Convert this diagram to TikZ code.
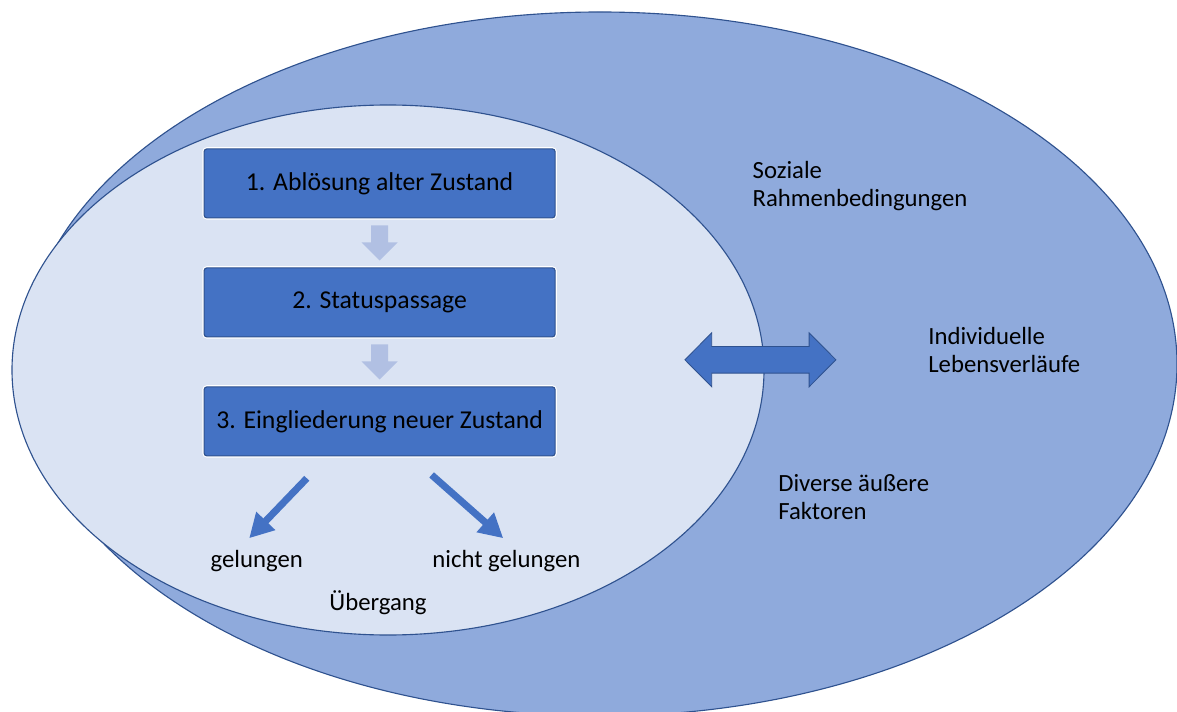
\documentclass[tikz,border=0pt]{standalone}
\usepackage{fontspec}
\setmainfont{Carlito}
\usetikzlibrary{positioning,calc,arrows.meta}

\definecolor{outerblue}{HTML}{8FAADC}
\definecolor{innerblue}{HTML}{DAE3F3}
\definecolor{edgeblue}{HTML}{2F528F}
\definecolor{stageblue}{HTML}{4472C4}
\definecolor{paleblue}{HTML}{B1C0E3}

\begin{document}
\begin{tikzpicture}[
	stage/.style={draw=edgeblue, line width=0.8pt, fill=stageblue, rounded corners=2pt,
		preaction={draw=white, line width=2.4pt},
		minimum width=8.775cm, minimum height=1.725cm, inner sep=0pt, outer sep=0pt,
		font=\fontsize{18.3}{20}\selectfont},
	lbl/.style={inner sep=0pt, font=\fontsize{17.6}{20}\selectfont},
	branch/.style={draw=stageblue, line width=5pt, -{Triangle[length=0.6cm,width=0.62cm]}},
]

\def\width{29.425}
\def\height{17.775}

\path [use as bounding box] (0,0) rectangle (\width,\height);

% ELLIPSES
\filldraw [draw=edgeblue, line width=0.8pt, fill=outerblue] (15.0,8.675) ellipse [x radius=14.425, y radius=8.8];
\filldraw [draw=edgeblue, line width=0.8pt, fill=innerblue] (9.7,8.525) ellipse [x radius=9.4, y radius=6.625];

% STAGES
\node [stage] (box1) at (9.49,13.19) {1. Ablösung alter Zustand};
\node [stage, below=1.25cm of box1] (box2) {2. Statuspassage};
\node [stage, below=1.25cm of box2] (box3) {3. Eingliederung neuer Zustand};

% STEP ARROWS
\fill [paleblue] ($(box1.south)!0.5!(box2.north)$)
	+(-0.215,0.4375) -- +(0.215,0.4375) -- +(0.215,0.0125) -- +(0.45,0.0125) --
	+(0,-0.4375) -- +(-0.45,0.0125) -- +(-0.215,0.0125) -- cycle;
\fill [paleblue] ($(box2.south)!0.5!(box3.north)$)
	+(-0.215,0.4375) -- +(0.215,0.4375) -- +(0.215,0.0125) -- +(0.45,0.0125) --
	+(0,-0.4375) -- +(-0.45,0.0125) -- +(-0.215,0.0125) -- cycle;

% LINK ARROW
\coordinate (link) at (19.01,8.78);
\filldraw [draw=edgeblue, line width=0.6pt, fill=stageblue] (link)
	+(-1.8875,0) -- +(-1.2175,0.675) -- +(-1.2175,0.334) -- +(1.2175,0.334) -- +(1.2175,0.675) --
	+(1.8875,0) -- +(1.2175,-0.675) -- +(1.2175,-0.334) -- +(-1.2175,-0.334) -- +(-1.2175,-0.675) -- cycle;

% OUTCOMES
\node [lbl, anchor=base] (ok) at (6.42,3.6) {gelungen};
\node [lbl, anchor=base] (notok) at (12.66,3.6) {nicht gelungen};
\node [lbl, anchor=base] (trans) at (9.45,2.525) {Übergang};

\draw [branch] ($(box3.south)+(-1.82,-0.56)$) -- ($(ok.base)+(-0.19,0.72)$);
\draw [branch] ($(box3.south)+(1.30,-0.475)$) -- ($(notok.base)+(-0.08,0.72)$);

% FACTORS
\node [lbl, anchor=north west, align=left] (social) at (18.81,13.74) {Soziale\\Rahmenbedingungen};
\node [lbl, anchor=north west, align=left] (life) at (23.2,9.59) {Individuelle\\Lebensverläufe};
\node [lbl, anchor=north west, align=left] (outside) at (19.45,5.92) {Diverse äußere\\Faktoren};

\end{tikzpicture}
\end{document}
